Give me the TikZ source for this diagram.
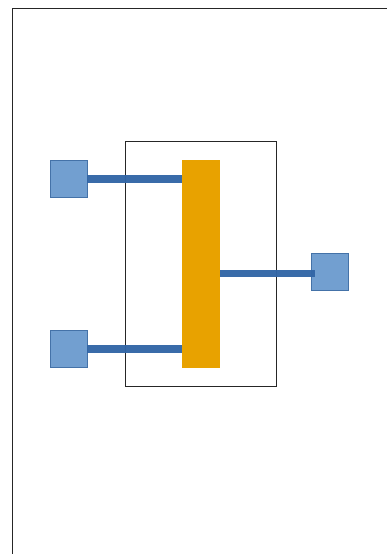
\documentclass[tikz,border=0pt]{standalone}
\definecolor{sqfill}{HTML}{729FD0}
\definecolor{sqedge}{HTML}{4472A8}
\definecolor{barfill}{HTML}{E8A200}
\definecolor{wire}{HTML}{3366A6}
\tikzset{
  frameline/.style={draw=black!85,line width=0.8pt},
  port/.style={rectangle,draw=sqedge,fill=sqfill,line width=0.7pt,minimum size=37.3pt,inner sep=0pt,outer sep=0pt,anchor=north west},
  busbar/.style={rectangle,fill=barfill,minimum width=38pt,minimum height=208pt,inner sep=0pt,outer sep=0pt,anchor=north west},
  wireline/.style={draw=wire,line width=7.6pt,opacity=0.97}
}
\begin{document}
\begin{tikzpicture}[x=1pt,y=-1pt]
\useasboundingbox (0,0) rectangle (387,554);
\draw[frameline] (12.3,554) -- (12.3,8.8) -- (387,8.8);
\coordinate (innerNW) at (125.6,141.2);
\coordinate (innerSE) at (276.7,386.6);
\draw[frameline] (innerNW) rectangle (innerSE);
\node[port] (a) at (50,160.2) {};
\node[port] (b) at (50,330.2) {};
\node[port] (c) at (311,253) {};
\node[busbar] (bar) at (182.2,160) {};
\coordinate (cend) at (314.6,273.3);
\draw[wireline] (a.east) -- (bar.west |- a.east);
\draw[wireline] (b.east) -- (bar.west |- b.east);
\draw[wireline] (bar.east |- cend) -- (cend);
\end{tikzpicture}
\end{document}
